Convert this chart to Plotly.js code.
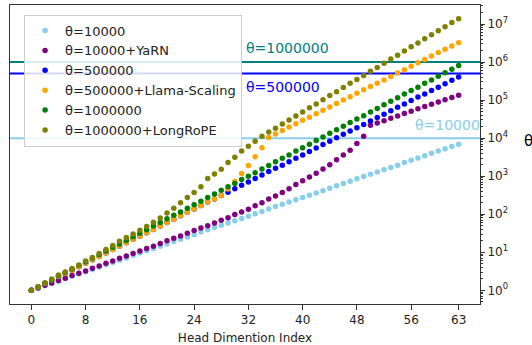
<!DOCTYPE html>
<html>
<head>
<meta charset="utf-8">
<script src="https://cdn.plot.ly/plotly-3.0.1.min.js"></script>
<style>html,body{margin:0;padding:0;background:#fff}#chart{width:532px;height:345px}</style>
</head>
<body>
<div id="chart"></div>
<script>
// Head dimension index (x)
const headIndex = [0,1,2,3,4,5,6,7,8,9,10,11,12,13,14,15,16,17,18,19,20,21,22,23,24,25,26,27,28,29,30,31,
  32,33,34,35,36,37,38,39,40,41,42,43,44,45,46,47,48,49,50,51,52,53,54,55,56,57,58,59,60,61,62,63];

// Values, stored as log10(theta) exponents
const log_theta10000 = [0,0.06,0.12,0.18,0.24,0.31,0.37,0.43,0.49,0.55,0.61,0.67,0.73,0.79,0.85,0.92,0.98,1.04,1.10,1.16,
  1.22,1.28,1.34,1.40,1.46,1.53,1.59,1.65,1.71,1.77,1.83,1.89,1.95,2.01,2.07,2.14,2.20,2.26,2.32,2.38,
  2.44,2.50,2.56,2.62,2.68,2.75,2.81,2.87,2.93,2.99,3.05,3.11,3.17,3.23,3.29,3.36,3.42,3.48,3.54,3.60,
  3.66,3.72,3.78,3.84];
const log_theta10000_yarn = [0,0.06,0.13,0.19,0.26,0.32,0.39,0.45,0.51,0.58,0.64,0.71,0.77,0.84,0.90,0.97,1.03,1.10,1.16,1.23,
  1.30,1.37,1.43,1.50,1.57,1.64,1.70,1.77,1.84,1.91,1.99,2.06,2.13,2.22,2.30,2.40,2.48,2.57,2.67,2.78,
  2.88,2.98,3.08,3.19,3.30,3.43,3.56,3.68,3.86,4.05,4.34,4.40,4.46,4.52,4.58,4.65,4.71,4.77,4.83,4.89,
  4.95,5.01,5.07,5.13];
const log_theta500000 = [0,0.09,0.18,0.27,0.36,0.45,0.53,0.62,0.71,0.80,0.89,0.98,1.07,1.16,1.25,1.34,1.42,1.51,1.60,1.69,
  1.78,1.87,1.96,2.05,2.14,2.23,2.32,2.40,2.49,2.58,2.67,2.76,2.85,2.94,3.03,3.12,3.21,3.29,3.38,3.47,
  3.56,3.65,3.74,3.83,3.92,4.01,4.10,4.19,4.27,4.36,4.45,4.54,4.63,4.72,4.81,4.90,4.99,5.08,5.16,5.25,
  5.34,5.43,5.52,5.61];
const log_theta500000_llama = [0,0.09,0.18,0.27,0.36,0.45,0.53,0.62,0.71,0.80,0.89,0.98,1.07,1.16,1.25,1.34,1.42,1.51,1.60,1.69,
  1.78,1.87,1.96,2.05,2.14,2.23,2.32,2.40,2.49,2.66,2.86,3.07,3.28,3.51,3.75,4.02,4.11,4.20,4.29,4.38,
  4.47,4.55,4.64,4.73,4.82,4.91,5.00,5.09,5.18,5.27,5.36,5.44,5.53,5.62,5.71,5.80,5.89,5.98,6.07,6.16,
  6.25,6.34,6.42,6.51];
const log_theta1000000 = [0,0.09,0.19,0.28,0.38,0.47,0.56,0.66,0.75,0.84,0.94,1.03,1.13,1.22,1.31,1.41,1.50,1.59,1.69,1.78,
  1.88,1.97,2.06,2.16,2.25,2.34,2.44,2.53,2.63,2.72,2.81,2.91,3.00,3.09,3.19,3.28,3.38,3.47,3.56,3.66,
  3.75,3.84,3.94,4.03,4.13,4.22,4.31,4.41,4.50,4.59,4.69,4.78,4.88,4.97,5.06,5.16,5.25,5.34,5.44,5.53,
  5.63,5.72,5.81,5.91];
const log_theta1000000_longrope = [0,0.09,0.19,0.30,0.40,0.48,0.57,0.66,0.77,0.86,0.97,1.07,1.18,1.29,1.39,1.48,1.58,1.68,1.79,1.90,
  2.03,2.16,2.30,2.44,2.57,2.72,2.94,3.06,3.18,3.36,3.50,3.66,3.79,3.92,4.05,4.16,4.26,4.37,4.48,4.58,
  4.69,4.80,4.90,5.01,5.12,5.22,5.33,5.44,5.54,5.65,5.76,5.86,5.97,6.08,6.18,6.29,6.40,6.50,6.61,6.72,
  6.82,6.93,7.04,7.14];

const seriesNames = ["θ=10000","θ=10000+YaRN","θ=500000","θ=500000+Llama-Scaling","θ=1000000","θ=1000000+LongRoPE"];
const seriesColors = ["#87ceeb","#800080","#0000ff","#ffa500","#008000","#808000"];
const seriesLogs = [log_theta10000, log_theta10000_yarn, log_theta500000, log_theta500000_llama, log_theta1000000, log_theta1000000_longrope];

// Reference base lines
const baseThetas = [10000, 500000, 1000000];
const baseLabels = ["θ=10000", "θ=500000", "θ=1000000"];
const baseColors = ["#87ceeb", "#0000ff", "#008080"];

const xTickVals = [0,8,16,24,32,40,48,56,63];
const yTickVals = [1,10,100,1000,10000,100000,1000000,10000000];
const yTickText = ["10<sup>0</sup>","10<sup>1</sup>","10<sup>2</sup>","10<sup>3</sup>","10<sup>4</sup>","10<sup>5</sup>","10<sup>6</sup>","10<sup>7</sup>"];

const FONT = "DejaVu Sans, Verdana, sans-serif";

const traces = seriesNames.map((name, k) => ({
  type: "scatter", mode: "markers", name: name,
  x: headIndex,
  y: seriesLogs[k].map(e => Math.pow(10, e)),
  marker: {color: seriesColors[k], size: 5.5, line: {width: 0}},
  cliponaxis: true
}));

const minorVals = [];
for (let d = -1; d < 8; d++) for (let m = 2; m <= 9; m++) minorVals.push(m * Math.pow(10, d));

const shapes = baseThetas.map((t, k) => ({
  type: "line", xref: "paper", x0: 0, x1: 1, yref: "y", y0: t, y1: t,
  line: {color: baseColors[k], width: 2}, layer: "below"
}));

// label positions (data coords: index, log10 value)
const labelPos = [[56.2, 4.34], [31.4, 5.34], [31.4, 6.36]];
const annotations = baseLabels.map((txt, k) => ({
  text: txt, xref: "x", yref: "y", x: labelPos[k][0], y: labelPos[k][1],
  xanchor: "left", yanchor: "middle", showarrow: false,
  font: {family: FONT, size: 14, color: baseColors[k]}
}));
annotations.push({
  text: "θ", xref: "paper", yref: "paper", x: 1.09, y: 0.545, xanchor: "left", yanchor: "middle",
  showarrow: false, font: {family: FONT, size: 15, color: "#000"}
});

const layout = {
  width: 532, height: 345,
  margin: {l: 10, r: 52, t: 5, b: 41, pad: 0},
  paper_bgcolor: "#fff", plot_bgcolor: "#fff",
  font: {family: FONT, size: 12, color: "#222"},
  showlegend: true,
  legend: {
    x: 0.03, y: 0.968, xanchor: "left", yanchor: "top",
    bgcolor: "rgba(255,255,255,0.85)", bordercolor: "#cccccc", borderwidth: 1,
    font: {family: FONT, size: 13, color: "#222"}, tracegroupgap: 0, itemsizing: "trace"
  },
  xaxis: {
    range: [-3.15, 66.15], tickmode: "array", tickvals: xTickVals, ticktext: xTickVals.map(String),
    showgrid: false, zeroline: false, showline: true, linecolor: "#333", linewidth: 1, mirror: true,
    ticks: "outside", ticklen: 5, tickcolor: "#333", tickfont: {family: FONT, size: 12, color: "#222"},
    title: {text: "Head Dimention Index", font: {family: FONT, size: 12, color: "#222"}, standoff: 10},
    automargin: false
  },
  yaxis: {
    type: "log", side: "right", range: [-0.36, 7.50],
    tickmode: "array", tickvals: yTickVals, ticktext: yTickText,
    showgrid: false, zeroline: false, showline: true, linecolor: "#333", linewidth: 1, mirror: true,
    ticks: "outside", ticklen: 4, tickcolor: "#333", tickfont: {family: FONT, size: 12, color: "#222"},
    minor: {tickmode: "array", tickvals: minorVals, ticks: "outside", ticklen: 2, tickcolor: "#333", showgrid: false},
    automargin: false
  },
  shapes: shapes,
  annotations: annotations
};

Plotly.newPlot("chart", traces, layout, {staticPlot: true, displayModeBar: false});
</script>
</body>
</html>
